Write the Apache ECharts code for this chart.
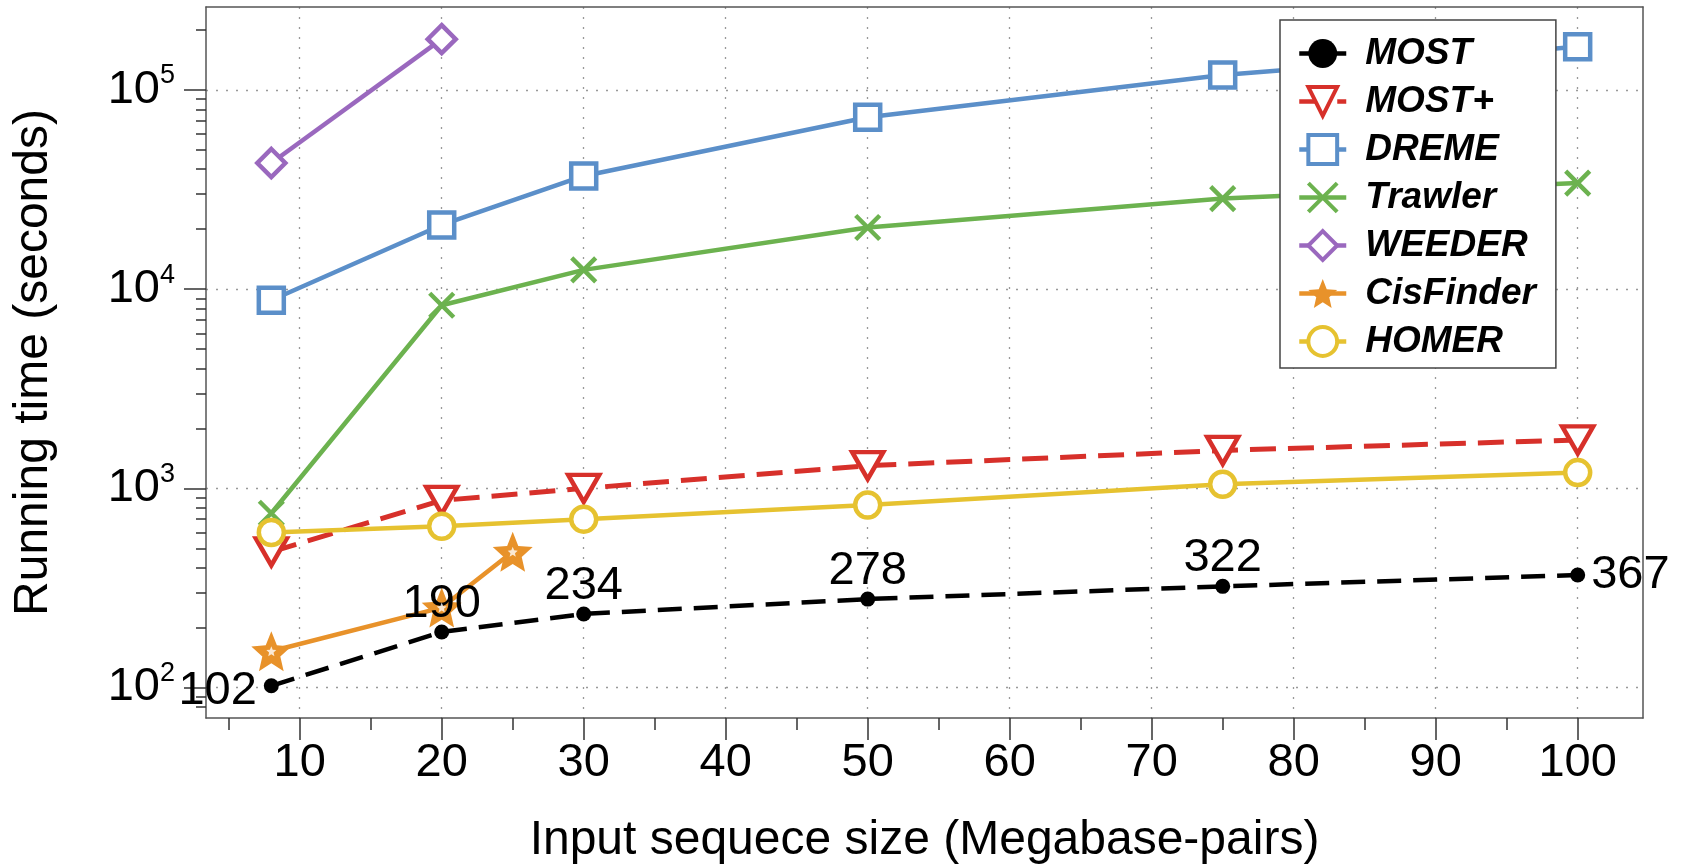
<!DOCTYPE html>
<html>
<head>
<meta charset="utf-8">
<script src="https://cdn.jsdelivr.net/npm/echarts@6/dist/echarts.min.js"></script>
<style>
html,body{margin:0;padding:0;background:#fff;}
#chart{width:1684px;height:864px;}
</style>
</head>
<body>
<div id="chart"></div>
<script>
// ---- data ----
const xSizes = [8, 20, 30, 50, 75, 100];
const xWeeder = [8, 20];
const xCisFinder = [8, 20, 25];

const most = [102, 190, 234, 278, 322, 367];
const mostPlus = [480, 870, 1000, 1300, 1550, 1750];
const dreme = [8800, 21000, 37000, 73000, 119000, 165000];
const trawler = [750, 8300, 12500, 20400, 28500, 34100];
const weeder = [43000, 180000];
const cisFinder = [152, 252, 480];
const homer = [600, 645, 700, 825, 1048, 1200];

const seriesNames = ['MOST', 'MOST+', 'DREME', 'Trawler', 'WEEDER', 'CisFinder', 'HOMER'];

// ---- axes / ticks ----
const xRange = [3.4, 104.6];
const yRange = [70.3, 261000];
const xTicks = [10, 20, 30, 40, 50, 60, 70, 80, 90, 100];
const xMinorTicks = [5, 15, 25, 35, 45, 55, 65, 75, 85, 95];
const yMajorTicks = [100, 1000, 10000, 100000];
const yMinorTicks = [80, 90, 200, 300, 400, 500, 600, 700, 800, 900,
  2000, 3000, 4000, 5000, 6000, 7000, 8000, 9000,
  20000, 30000, 40000, 50000, 60000, 70000, 80000, 90000, 200000];

const FONT = '"Liberation Sans", Arial, Helvetica, sans-serif';
const C = {
  most: '#000000', mostPlus: '#d7302a', dreme: '#5b8fc9', trawler: '#6cb24f',
  weeder: '#9a68be', cis: '#e8922a', homer: '#e6c230'
};
const STAR = 'path://M50,0L63.23,31.8L97.55,34.55L71.4,56.95L79.39,90.45L50,72.5L20.61,90.45L28.6,56.95L2.45,34.55L36.77,31.8Z';
const CROSS = 'path://M0,0L10,10M10,0L0,10';

const pairs = (xs, ys) => xs.map((x, i) => [x, ys[i]]);
const lg = Math.log10;

const mostData = pairs(xSizes, most).map((p, i, arr) => {
  const item = { value: p };
  if (i === 0) item.label = { position: 'left', distance: 7, offset: [0, 5] };
  else if (i === arr.length - 1) item.label = { position: 'right', distance: 6 };
  return item;
});

const hollow = (c) => ({ color: '#ffffff', borderColor: c, borderWidth: 4.5 });

const chart = echarts.init(document.getElementById('chart'), null, { renderer: 'canvas' });

const baseAxisText = { fontFamily: FONT, color: '#000' };

chart.setOption({
  animation: false,
  backgroundColor: '#ffffff',
  textStyle: { fontFamily: FONT },
  grid: { left: 206, right: 41, top: 7, bottom: 146, containLabel: false, outerBoundsMode: 'none' },
  legend: {
    orient: 'vertical',
    left: 1280, top: 20,
    data: seriesNames,
    backgroundColor: '#ffffff',
    borderColor: '#444', borderWidth: 1.5,
    padding: [15, 20, 8, 17],
    itemWidth: 47, itemHeight: 36, itemGap: 11,
    selectedMode: false,
    lineStyle: { width: 4.5 },
    itemStyle: { borderWidth: 4 },
    textStyle: { fontFamily: FONT, fontSize: 37, fontWeight: 'bold', fontStyle: 'italic', color: '#000', padding: [0, 0, 0, 14] }
  },
  xAxis: [
    {
      type: 'value', min: xRange[0], max: xRange[1], position: 'bottom',
      name: 'Input sequece size (Megabase-pairs)', nameLocation: 'middle', nameGap: 99,
      nameMoveOverlap: false,
      nameTextStyle: Object.assign({ fontSize: 48 }, baseAxisText),
      axisLine: { show: true, onZero: false, lineStyle: { color: '#555', width: 1.5 } },
      axisTick: { show: true, customValues: xTicks, length: 22, lineStyle: { color: '#333', width: 1.5 } },
      axisLabel: Object.assign({ show: true, customValues: xTicks, fontSize: 47, margin: 22 }, baseAxisText),
      splitLine: { show: true, lineStyle: { color: '#999', width: 1.3, type: [2, 8] } }
    },
    {
      type: 'value', min: xRange[0], max: xRange[1], position: 'bottom',
      axisLine: { show: false },
      axisTick: { show: true, customValues: xMinorTicks, length: 12, lineStyle: { color: '#333', width: 1.5 } },
      axisLabel: { show: false, customValues: xMinorTicks },
      splitLine: { show: false }
    },
    {
      type: 'value', min: xRange[0], max: xRange[1], position: 'top',
      axisLine: { show: true, onZero: false, lineStyle: { color: '#555', width: 1.5 } },
      axisTick: { show: false }, axisLabel: { show: false }, splitLine: { show: false }
    }
  ],
  yAxis: [
    {
      type: 'log', logBase: 10, min: yRange[0], max: yRange[1], position: 'left',
      axisLine: { show: true, onZero: false, lineStyle: { color: '#555', width: 1.5 } },
      axisTick: { show: false }, axisLabel: { show: false }, splitLine: { show: false }
    },
    {
      type: 'value', min: lg(yRange[0]), max: lg(yRange[1]), position: 'left',
      name: 'Running time (seconds)', nameLocation: 'middle', nameGap: 148, nameRotate: 90,
      nameMoveOverlap: false,
      nameTextStyle: Object.assign({ fontSize: 48 }, baseAxisText),
      axisLine: { show: false },
      axisTick: { show: true, customValues: yMajorTicks.map(lg), length: 22, lineStyle: { color: '#333', width: 1.5 } },
      axisLabel: Object.assign({
        show: true, customValues: yMajorTicks.map(lg), fontSize: 47, lineHeight: 55, margin: 31,
        formatter: (v) => '10{sup|' + Math.round(v) + '}',
        rich: { sup: { fontSize: 27, lineHeight: 27, verticalAlign: 'top', fontFamily: FONT, color: '#000' } }
      }, baseAxisText),
      splitLine: { show: true, lineStyle: { color: '#999', width: 1.3, type: [2, 8] } }
    },
    {
      type: 'value', min: lg(yRange[0]), max: lg(yRange[1]), position: 'left',
      axisLine: { show: false },
      axisTick: { show: true, customValues: yMinorTicks.map(lg), length: 10, lineStyle: { color: '#333', width: 1.5 } },
      axisLabel: { show: false, customValues: yMinorTicks.map(lg) },
      splitLine: { show: false }
    },
    {
      type: 'log', logBase: 10, min: yRange[0], max: yRange[1], position: 'right',
      axisLine: { show: true, onZero: false, lineStyle: { color: '#555', width: 1.5 } },
      axisTick: { show: false }, axisLabel: { show: false }, splitLine: { show: false }
    }
  ],
  series: [
    {
      name: 'MOST', type: 'line', xAxisIndex: 0, yAxisIndex: 0,
      data: mostData,
      symbol: 'circle', symbolSize: 15,
      itemStyle: { color: C.most },
      lineStyle: { color: C.most, width: 4.5, type: [24, 12] },
      label: { show: true, position: 'top', distance: -3, fontSize: 47, fontFamily: FONT, color: '#000',
        formatter: (p) => String(p.value[1]) }
    },
    {
      name: 'MOST+', type: 'line', xAxisIndex: 0, yAxisIndex: 0,
      data: pairs(xSizes, mostPlus),
      symbol: 'triangle', symbolSize: [31, 27], symbolRotate: 180,
      itemStyle: hollow(C.mostPlus),
      lineStyle: { color: C.mostPlus, width: 5, type: [26, 12] }
    },
    {
      name: 'DREME', type: 'line', xAxisIndex: 0, yAxisIndex: 0,
      data: pairs(xSizes, dreme),
      symbol: 'rect', symbolSize: 25,
      itemStyle: hollow(C.dreme),
      lineStyle: { color: C.dreme, width: 4.5 }
    },
    {
      name: 'Trawler', type: 'line', xAxisIndex: 0, yAxisIndex: 0,
      data: pairs(xSizes, trawler),
      symbol: CROSS, symbolSize: 24,
      itemStyle: { color: C.trawler, borderColor: C.trawler, borderWidth: 4.5 },
      lineStyle: { color: C.trawler, width: 4.5 }
    },
    {
      name: 'WEEDER', type: 'line', xAxisIndex: 0, yAxisIndex: 0,
      data: pairs(xWeeder, weeder),
      symbol: 'diamond', symbolSize: 28,
      itemStyle: hollow(C.weeder),
      lineStyle: { color: C.weeder, width: 4.5 }
    },
    {
      name: 'CisFinder', type: 'line', xAxisIndex: 0, yAxisIndex: 0,
      data: pairs(xCisFinder, cisFinder),
      symbol: STAR, symbolSize: 40, z: 3,
      itemStyle: { color: C.cis },
      lineStyle: { color: C.cis, width: 4.5 }
    },
    {
      name: 'CisFinderInner', type: 'scatter', xAxisIndex: 0, yAxisIndex: 0,
      data: pairs(xCisFinder, cisFinder),
      symbol: STAR, symbolSize: 10, z: 3.5, silent: true,
      itemStyle: { color: '#ffffff' }
    },
    {
      name: 'HOMER', type: 'line', xAxisIndex: 0, yAxisIndex: 0,
      data: pairs(xSizes, homer),
      symbol: 'circle', symbolSize: 25, z: 4,
      itemStyle: hollow(C.homer),
      lineStyle: { color: C.homer, width: 4.5 }
    }
  ]
});
</script>
</body>
</html>
